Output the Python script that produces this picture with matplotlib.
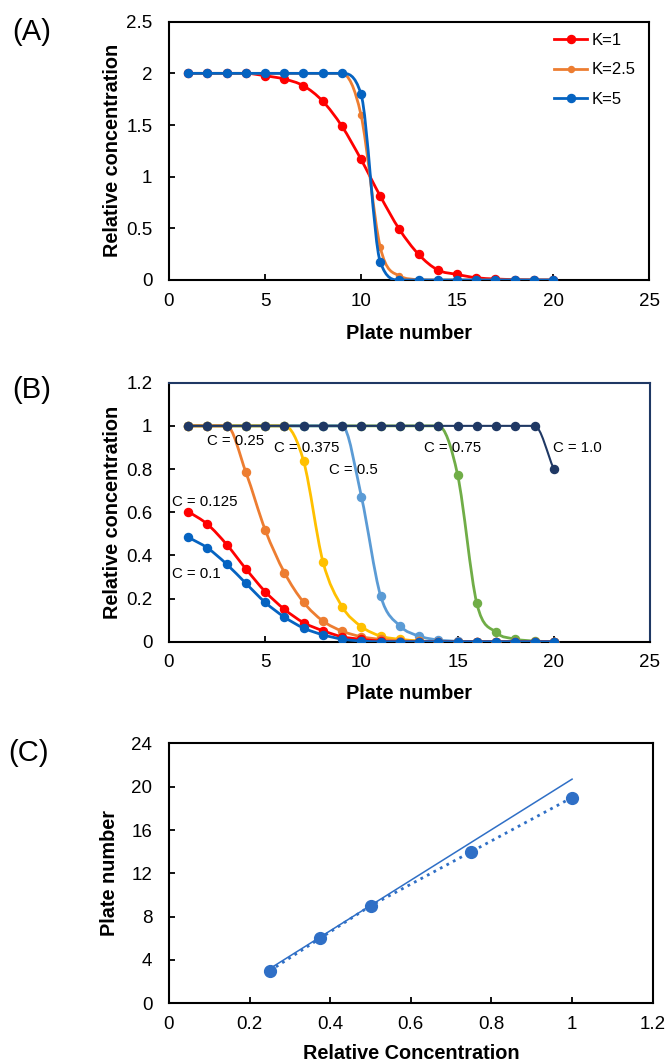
import numpy as np
import matplotlib
matplotlib.use("Agg")
import matplotlib.pyplot as plt
from matplotlib.path import Path
from matplotlib.patches import PathPatch
from matplotlib.lines import Line2D
from matplotlib.ticker import FuncFormatter

plt.rcParams['font.family'] = ['Liberation Sans', 'DejaVu Sans']

# ---------------- data ----------------
plates = list(range(1, 21))

# Panel A
k_labels = ["K=1", "K=2.5", "K=5"]
k1 = [2, 2, 2, 2, 1.977, 1.945, 1.88, 1.732, 1.49, 1.168, 0.813, 0.49, 0.248, 0.097,
      0.054, 0.022, 0.01, 0.004, 0.001, 0.0]
k25 = [2, 2, 2, 2, 2, 2, 2, 2, 2, 1.597, 0.32, 0.04, 0.004, 0, 0, 0, 0, 0, 0, 0]
k5 = [2, 2, 2, 2, 2, 2, 2, 2, 2, 1.8, 0.177, 0, 0, 0, 0, 0, 0, 0, 0, 0]

# Panel B
c_labels = ["C = 0.1", "C = 0.125", "C = 0.25", "C = 0.375", "C = 0.5", "C = 0.75", "C = 1.0"]
c010 = [0.484, 0.434, 0.359, 0.270, 0.182, 0.114, 0.063, 0.032, 0.012, 0.003,
        0, 0, 0, 0, 0, 0, 0, 0, 0, 0]
c0125 = [0.603, 0.544, 0.450, 0.337, 0.232, 0.150, 0.088, 0.051, 0.023, 0.011,
         0.003, 0, 0, 0, 0, 0, 0, 0, 0, 0]
c025 = [1, 1, 1, 0.784, 0.518, 0.32, 0.182, 0.096, 0.049, 0.023,
        0.011, 0.005, 0.002, 0, 0, 0, 0, 0, 0, 0]
c0375 = [1, 1, 1, 1, 1, 1, 0.835, 0.371, 0.162, 0.07,
         0.026, 0.011, 0.004, 0, 0, 0, 0, 0, 0, 0]
c050 = [1, 1, 1, 1, 1, 1, 1, 1, 1, 0.672,
        0.212, 0.073, 0.026, 0.008, 0.002, 0, 0, 0, 0, 0]
c075 = [1, 1, 1, 1, 1, 1, 1, 1, 1, 1,
        1, 1, 1, 1, 0.773, 0.177, 0.043, 0.012, 0.003, 0]
c100 = [1, 1, 1, 1, 1, 1, 1, 1, 1, 1,
        1, 1, 1, 1, 1, 1, 1, 1, 1, 0.80]
# label anchor positions (data coords, left aligned)
c_label_x = [0.15, 0.15, 2.0, 5.45, 8.3, 13.25, 19.95]
c_label_y = [0.312, 0.649, 0.930, 0.897, 0.796, 0.898, 0.898]

# Panel C
rel_conc = [0.25, 0.375, 0.5, 0.75, 1.0]
plate_no = [3, 6, 9, 14, 19]
line_x = [0.25, 1.0]
line_y = [3.2, 20.7]

# ---------------- helpers ----------------
def smooth_patch(x, y, color, lw, zorder):
    """Smoothed line through the data points (monotone cubic Bezier path)."""
    x = np.asarray(x, float)
    y = np.asarray(y, float)
    n = len(x)
    h = np.diff(x)
    d = np.diff(y) / h
    m = np.zeros(n)
    m[0] = d[0]
    m[-1] = d[-1]
    for i in range(1, n - 1):
        if d[i - 1] * d[i] <= 0:
            m[i] = 0.0
        else:
            m[i] = (d[i - 1] + d[i]) / 2.0
    for i in range(n - 1):
        if d[i] == 0:
            m[i] = 0.0
            m[i + 1] = 0.0
            continue
        a = m[i] / d[i]
        b = m[i + 1] / d[i]
        s = a * a + b * b
        if s > 9:
            t = 3.0 / np.sqrt(s)
            m[i] = t * a * d[i]
            m[i + 1] = t * b * d[i]
    verts = [(x[0], y[0])]
    codes = [Path.MOVETO]
    for i in range(n - 1):
        c1 = (x[i] + h[i] / 3.0, y[i] + m[i] * h[i] / 3.0)
        c2 = (x[i + 1] - h[i] / 3.0, y[i + 1] - m[i + 1] * h[i] / 3.0)
        verts += [c1, c2, (x[i + 1], y[i + 1])]
        codes += [Path.CURVE4] * 3
    return PathPatch(Path(verts, codes), fill=False, edgecolor=color, lw=lw,
                     zorder=zorder, capstyle='round', joinstyle='round')


def style_axes(ax, spine_w=1.5):
    for s in ax.spines.values():
        s.set_linewidth(spine_w)
        s.set_color('black')
    ax.tick_params(direction='in', length=4, width=1.3, labelsize=13.5,
                   top=False, right=False)
    ax.tick_params(axis='x', pad=9)
    ax.tick_params(axis='y', pad=12)
    fmt = FuncFormatter(lambda v, p: f"{v:g}")
    ax.xaxis.set_major_formatter(fmt)
    ax.yaxis.set_major_formatter(fmt)


fig = plt.figure(figsize=(6.66, 10.63), dpi=100)
W, H = 666.0, 1063.0

def add_axes(l, r, t, b):
    return fig.add_axes([l / W, 1 - b / H, (r - l) / W, (b - t) / H])

LBL = 14.3

# ---------------- Panel A ----------------
axA = add_axes(169, 649, 21.7, 280)
seriesA = [(k1, '#ff0000', 5.8), (k25, '#ed7d31', 4.3), (k5, '#0563c1', 5.8)]
z = 3
handles = []
for (vals, col, ms), lab in zip(seriesA, k_labels):
    axA.add_patch(smooth_patch(plates, vals, col, 2.0, z))
    axA.plot(plates, vals, 'o', color=col, ms=ms, ls='none', zorder=z + 0.5)
    handles.append(Line2D([], [], color=col, lw=2.0, marker='o', ms=ms))
    z += 1
axA.set_xlim(0, 25)
axA.set_ylim(0, 2.5)
axA.set_xticks([0, 5, 10, 15, 20, 25])
axA.set_yticks([0, 0.5, 1, 1.5, 2, 2.5])
style_axes(axA)
axA.set_xlabel("Plate number", fontsize=LBL, fontweight='bold')
axA.set_ylabel("Relative concentration", fontsize=LBL, fontweight='bold')
axA.xaxis.set_label_coords(0.5, -0.172)
axA.yaxis.set_label_coords(-0.097, 0.5)
axA.legend(handles, k_labels, loc='upper left', bbox_to_anchor=(0.802, 0.955),
           frameon=False, fontsize=12, borderpad=0, borderaxespad=0,
           handlelength=2.0, handletextpad=0.25, labelspacing=0.85, numpoints=1)

# ---------------- Panel B ----------------
axB = add_axes(169, 650, 382.7, 641.7)
seriesB = [(c075, '#70ad47', 2.0), (c050, '#5b9bd5', 2.0), (c0375, '#ffc000', 2.0),
           (c025, '#ed7d31', 2.0), (c0125, '#ff0000', 2.0), (c010, '#0563c1', 2.0),
           (c100, '#1f3864', 1.5)]
z = 3
for vals, col, lw in seriesB:
    axB.add_patch(smooth_patch(plates, vals, col, lw, z))
    axB.plot(plates, vals, 'o', color=col, ms=5.8, ls='none', zorder=z + 0.5)
    z += 1
for lab, tx, ty in zip(c_labels, c_label_x, c_label_y):
    axB.text(tx, ty, lab, fontsize=10.8, ha='left', va='center', zorder=20)
axB.set_xlim(0, 25)
axB.set_ylim(0, 1.2)
axB.set_xticks([0, 5, 10, 15, 20, 25])
axB.set_yticks([0, 0.2, 0.4, 0.6, 0.8, 1.0, 1.2])
style_axes(axB)
axB.spines['top'].set_color('#1f3864')
axB.spines['right'].set_color('#1f3864')
axB.set_xlabel("Plate number", fontsize=LBL, fontweight='bold')
axB.set_ylabel("Relative concentration", fontsize=LBL, fontweight='bold')
axB.xaxis.set_label_coords(0.5, -0.165)
axB.yaxis.set_label_coords(-0.097, 0.5)

# ---------------- Panel C ----------------
axC = add_axes(169, 652.7, 743.4, 1003.3)
colC = '#2f6fc6'
axC.plot(line_x, line_y, '-', color=colC, lw=1.1, zorder=3)
axC.plot(rel_conc, plate_no, ':', color=colC, lw=2.0, zorder=3)
axC.plot(rel_conc, plate_no, 'o', color=colC, ms=8.5, ls='none', zorder=4)
axC.set_xlim(0, 1.2)
axC.set_ylim(0, 24)
axC.set_xticks([0, 0.2, 0.4, 0.6, 0.8, 1.0, 1.2])
axC.set_yticks([0, 4, 8, 12, 16, 20, 24])
style_axes(axC)
axC.set_xlabel("Relative Concentration", fontsize=LBL, fontweight='bold')
axC.set_ylabel("Plate number", fontsize=LBL, fontweight='bold')
axC.xaxis.set_label_coords(0.5, -0.158)
axC.yaxis.set_label_coords(-0.104, 0.5)

# ---------------- panel labels ----------------
fig.text(12 / W, 1 - 32 / H, "(A)", fontsize=21, ha='left', va='center')
fig.text(12 / W, 1 - 390 / H, "(B)", fontsize=21, ha='left', va='center')
fig.text(8 / W, 1 - 753 / H, "(C)", fontsize=21, ha='left', va='center')

fig.savefig("out.png", dpi=100)
